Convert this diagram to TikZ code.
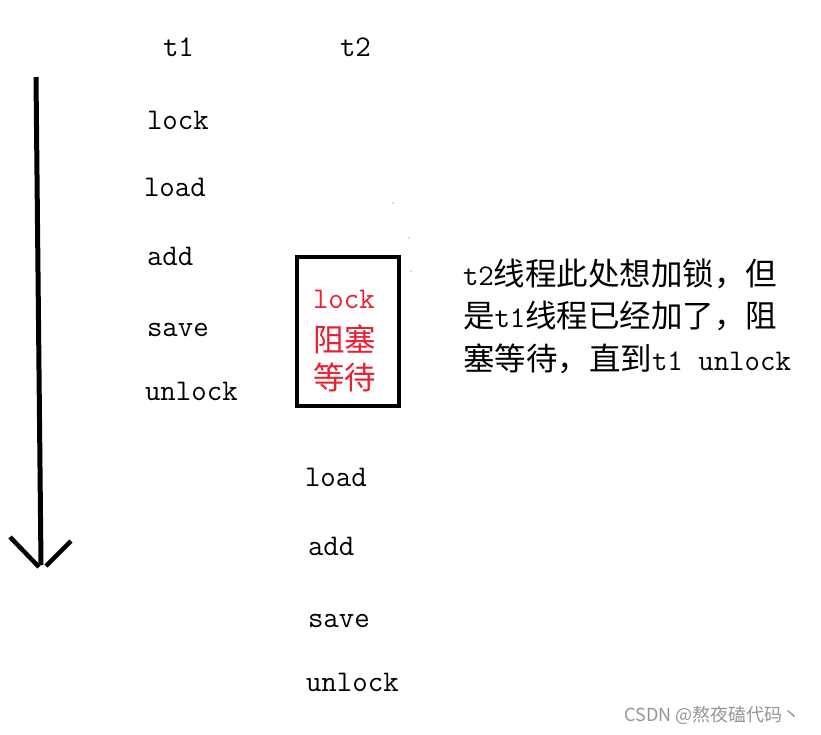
\documentclass[tikz,border=0pt]{standalone}
\usepackage{fontspec}
\newfontfamily\cjkfont{Noto Sans CJK SC}
\newcommand\latt{\ttfamily\fontsize{30}{30}\selectfont}
\newcommand\cjkt{\cjkfont\fontsize{31.5}{31.5}\selectfont}
\definecolor{lockred}{RGB}{235,30,50}
\definecolor{wmgray}{RGB}{150,150,150}
\tikzset{
  lbl/.style={inner sep=0pt, outer sep=0pt, anchor=base west, font=\latt},
  redlbl/.style={lbl, text=lockred},
  stroke/.style={line width=5pt, black},
}
\begin{document}
\begin{tikzpicture}[x=1pt,y=-1pt]
\useasboundingbox[fill=white] (0,0) rectangle (821,734);
% time arrow
\coordinate (atop) at (36,77);
\coordinate (abot) at (41,565);
\coordinate (hl) at (10,537);
\coordinate (hr) at (71,541);
\coordinate (hlend) at (39,567);
\coordinate (hrend) at (46,566);
\draw[stroke] (atop) -- (abot);
\draw[line width=4.5pt] (hl) -- (hlend);
\draw[line width=4.5pt] (hr) -- (hrend);
% headers
\node[lbl] (t1) at (163,56) {t1};
\node[lbl] (t2) at (340,56) {t2};
% t1 column
\node[lbl] (l1) at (147,129) {lock};
\node[lbl] (l2) at (144,196) {load};
\node[lbl] (l3) at (147,265) {add};
\node[lbl] (l4) at (147,336) {save};
\node[lbl] (l5) at (145,400) {unlock};
% blocked box
\node[draw, line width=4pt, minimum width=102pt, minimum height=149pt, inner sep=0pt] (box) at (348,331.5) {};
\node[redlbl] (r1) at (313,308) {lock};
\node[redlbl, font=\cjkt] (r2) at (313,351) {阻塞};
\node[redlbl, font=\cjkt] (r3) at (313,389) {等待};
% t2 column
\node[lbl] (m1) at (305,486) {load};
\node[lbl] (m2) at (308,555) {add};
\node[lbl] (m3) at (308,627) {save};
\node[lbl] (m4) at (306,691) {unlock};
% explanation
\node[lbl] (e1) at (463,285) {t2{\cjkt 线程此处想加锁，但}};
\node[lbl] (e2) at (463,327) {{\cjkt 是}t1{\cjkt 线程已经加了，阻}};
\node[lbl] (e3) at (463,370) {{\cjkt 塞等待，直到}t1 unlock};
% specks
\fill[black!60] (393,203) circle (0.7pt);
\fill[black!60] (409,238) circle (0.7pt);
\fill[black!60] (411,271) circle (0.7pt);
% watermark
\node[inner sep=0pt, anchor=base east, text=wmgray, font=\cjkfont\fontsize{18}{18}\selectfont] (wm) at (801,721) {CSDN @熬夜磕代码丶};
\end{tikzpicture}
\end{document}
